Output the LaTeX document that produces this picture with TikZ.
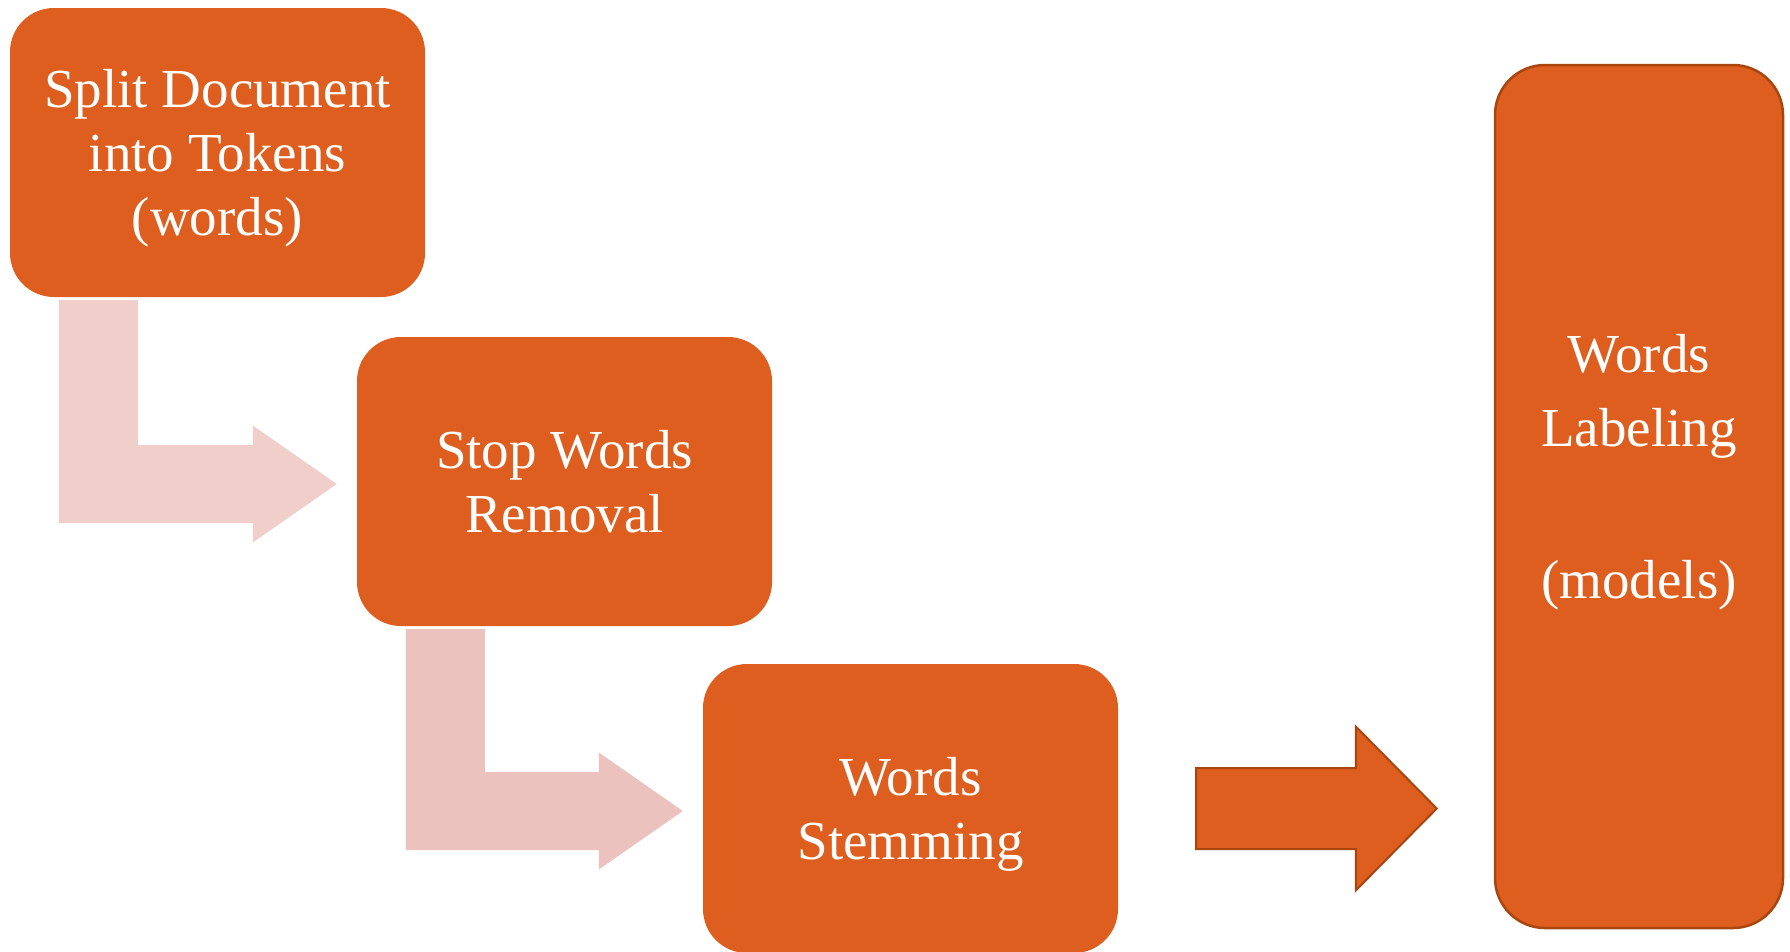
\documentclass[tikz,border=0pt]{standalone}
\usepackage{fontspec}
\setmainfont{Liberation Serif}
\usepackage{tikz}
\usetikzlibrary{calc}
\definecolor{boxcolor}{HTML}{DD5E1E}
\definecolor{edgecolor}{HTML}{A9460F}
\definecolor{bendcolorA}{HTML}{F0CFCA}
\definecolor{bendcolorB}{HTML}{EBC2BD}

\begin{document}
\begin{tikzpicture}[x=1pt,y=-1pt,
  stepbox/.style={fill=boxcolor,rounded corners=44pt,minimum width=415pt,minimum height=289pt,
    inner sep=0pt,text=white,text depth=0pt,align=center,font=\fontsize{55}{64}\selectfont}]
\useasboundingbox (0,0) rectangle (1790,951);
%% the three steps
\node[stepbox] (split) at (217.5,152.5) {Split Document\\into Tokens\\(words)};
\node[stepbox] (stop) at (564.5,481.5) {Stop Words\\Removal};
\node[stepbox] (stem) at (910.5,808.5) {Words\\Stemming};
%% last tall box
\node[stepbox,draw=edgecolor,line width=2.5pt,minimum width=288pt,minimum height=863pt,rounded corners=50pt] (label) at (1639,496.5) {};
\node[text=white,align=center,font=\fontsize{55}{74}\selectfont] (labeltext) at ($(label.center)+(0,-24)$) {Words\\Labeling\\[78pt](models)};
%% bent arrows
\foreach \a/\b/\c in {split/stop/bendcolorA, stop/stem/bendcolorB}
  \fill[\c] ($(\a.south west)+(49,3)$) coordinate (bend) -- ++(79,0) |- ($(\b.west)+(-104,-36.5)$) -- ++(0,-19.5)
    -- ($(\b.west)+(-20,2.5)$) -- ($(\b.west)+(-104,61)$) -- ++(0,-19.5) -| (bend) -- cycle;
%% right arrow
\draw[fill=boxcolor,draw=edgecolor,line width=2pt] ($(stem.east)+(78,-40.5)$) -- ($(label.west |- stem.east)+(-138,-40.5)$) -- ++(0,-41.5)
  -- ($(label.west |- stem.east)+(-57,0)$) -- ($(label.west |- stem.east)+(-138,82)$) -- ++(0,-41.5) -- ($(stem.east)+(78,40.5)$) -- cycle;
\end{tikzpicture}
\end{document}
